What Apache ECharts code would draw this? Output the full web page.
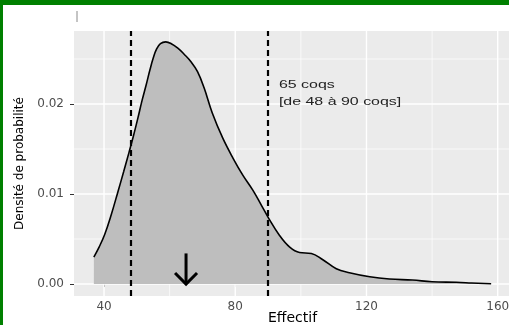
<!DOCTYPE html>
<html>
<head>
<meta charset="utf-8">
<script src="https://cdn.jsdelivr.net/npm/echarts@6/dist/echarts.min.js"></script>
<style>
  html, body { margin: 0; padding: 0; background: #fff; }
  #chart { width: 509px; height: 325px; }
</style>
</head>
<body>
<div id="chart"></div>
<script>
// density curve
const effectif = [36.9, 38.5, 40.2, 42.2, 44.2, 46.0, 47.6, 49.0, 50.3, 51.6, 52.9, 54.0, 55.0, 56.0, 57.2, 58.8,
  60.5, 62.5, 64.5, 66.5, 68.5, 70.5, 73.0, 76.2, 79.3, 82.3, 85.4, 87.9, 90.2, 93.5, 96.6, 99.6, 103.2,
  106.7, 110.8, 114.8, 121, 127, 134, 140, 147.4, 152, 158]
const densite = [0.0030, 0.0041, 0.0055, 0.0077, 0.0102, 0.0125, 0.0146, 0.0165, 0.0184, 0.0204, 0.0222, 0.0238, 0.0251, 0.0261, 0.0267, 0.0269,
  0.0267, 0.0262, 0.0255, 0.0247, 0.0236, 0.0218, 0.0190, 0.0162, 0.0140, 0.0121, 0.0104, 0.0088, 0.0073, 0.0054, 0.0041, 0.0035, 0.0034,
  0.0027, 0.0017, 0.00126, 0.00081, 0.00056, 0.00044, 0.00026, 0.00019, 0.00012, 0.00003]

const bornes = [48, 90]          // dashed lines
const mediane = 65               // arrow
const arrowTop = 0.0034
const labelPos = [93.3, 0.0212]
const labelText = '65 coqs\n[de 48 à 90 coqs]'

const xTicks = [40, 80, 120, 160]
const xMinor = [60, 100, 140]
const yTicks = [0, 0.01, 0.02]
const yMinor = [0.005, 0.015, 0.025]

const xMin = 30.85, xMax = 164.05
const yMin = -0.00133, yMax = 0.02811

const chart = echarts.init(document.getElementById('chart'))

// white panel grid lines, ggplot style
function gridLines(values, dir, width) {
  return {
    type: 'custom',
    silent: true,
    z: 1,
    data: values.map(v => (dir === 'x' ? [v, 0] : [40, v])),
    renderItem: (params, api) => {
      const cs = params.coordSys
      const p = api.coord([api.value(0), api.value(1)])
      const shape = dir === 'x'
        ? { x1: p[0], y1: cs.y, x2: p[0], y2: cs.y + cs.height }
        : { x1: cs.x, y1: p[1], x2: cs.x + cs.width, y2: p[1] }
      return { type: 'line', shape, style: { stroke: '#fff', lineWidth: width } }
    },
  }
}

chart.setOption({
  animation: false,
  backgroundColor: '#fff',
  grid: {
    left: 74,
    top: 31,
    width: 437,
    height: 265,
    outerBoundsMode: 'none',
    containLabel: false,
    show: true,
    backgroundColor: '#EBEBEB',
    borderWidth: 0,
  },
  xAxis: {
    type: 'value',
    min: xMin,
    max: xMax,
    name: 'Effectif',
    nameLocation: 'middle',
    nameGap: 15,
    nameMoveOverlap: false,
    nameTextStyle: { color: '#000', fontSize: 14, fontFamily: 'DejaVu Sans' },
    axisLine: { show: false },
    axisTick: { show: true, customValues: xTicks, length: 3, lineStyle: { color: '#333' } },
    axisLabel: {
      customValues: xTicks,
      margin: 5,
      color: '#4D4D4D',
      fontSize: 12,
      fontFamily: 'DejaVu Sans',
    },
    splitLine: { show: false },
  },
  yAxis: {
    type: 'value',
    min: yMin,
    max: yMax,
    name: 'Densité de probabilité',
    nameLocation: 'middle',
    nameGap: 48,
    nameMoveOverlap: false,
    nameTextStyle: { color: '#000', fontSize: 12, fontFamily: 'DejaVu Sans' },
    axisLine: { show: false },
    axisTick: { show: true, customValues: yTicks, length: 4, lineStyle: { color: '#333' } },
    axisLabel: {
      customValues: yTicks,
      margin: 10,
      color: '#4D4D4D',
      fontSize: 12,
      fontFamily: 'DejaVu Sans',
      formatter: v => v.toFixed(2),
    },
    splitLine: { show: false },
  },
  graphic: [
    { type: 'rect', shape: { x: 0, y: 0, width: 509, height: 5 }, style: { fill: '#008000' } },
    { type: 'rect', shape: { x: 0, y: 0, width: 3, height: 325 }, style: { fill: '#008000' } },
    { type: 'line', shape: { x1: 77, y1: 11, x2: 77, y2: 22 }, style: { stroke: '#8a8a8a', lineWidth: 1 } },
  ],
  series: [
    gridLines(xMinor, 'x', 0.7),
    gridLines(yMinor, 'y', 0.7),
    gridLines(xTicks, 'x', 1.4),
    gridLines(yTicks, 'y', 1.4),
    {
      type: 'line',
      z: 2,
      data: effectif.map((x, i) => [x, densite[i]]),
      smooth: 0.4,
      showSymbol: false,
      lineStyle: { color: '#000', width: 1.6 },
      areaStyle: { color: '#BEBEBE', opacity: 1 },
      markLine: {
        silent: true,
        symbol: 'none',
        label: { show: false },
        lineStyle: { color: '#000', type: [6, 4], width: 2.2 },
        data: bornes.map(b => ({ xAxis: b })),
      },
    },
    {
      // arrow at the median
      type: 'custom',
      z: 4,
      silent: true,
      data: [[mediane, arrowTop, 0]],
      renderItem: (params, api) => {
        const top = api.coord([api.value(0), api.value(1)])
        const tip = api.coord([api.value(0), api.value(2)])
        const h = 11
        return {
          type: 'group',
          children: [
            { type: 'line', shape: { x1: top[0], y1: top[1], x2: tip[0], y2: tip[1] - 1 },
              style: { stroke: '#000', lineWidth: 3 } },
            { type: 'polyline', shape: { points: [[tip[0] - h, tip[1] - h], [tip[0], tip[1]], [tip[0] + h, tip[1] - h]] },
              style: { stroke: '#000', lineWidth: 3, fill: null, lineJoin: 'miter' } },
          ],
        }
      },
    },
    {
      // annotation text
      type: 'custom',
      z: 5,
      silent: true,
      data: [labelPos],
      renderItem: (params, api) => {
        const p = api.coord([api.value(0), api.value(1)])
        return {
          type: 'text',
          x: p[0],
          y: p[1],
          scaleX: 1.45,
          style: {
            text: labelText,
            fill: '#222',
            fontSize: 11,
            fontFamily: 'Liberation Sans',
            lineHeight: 16.7,
            align: 'left',
            verticalAlign: 'middle',
          },
        }
      },
    },
  ],
})
</script>
</body>
</html>
